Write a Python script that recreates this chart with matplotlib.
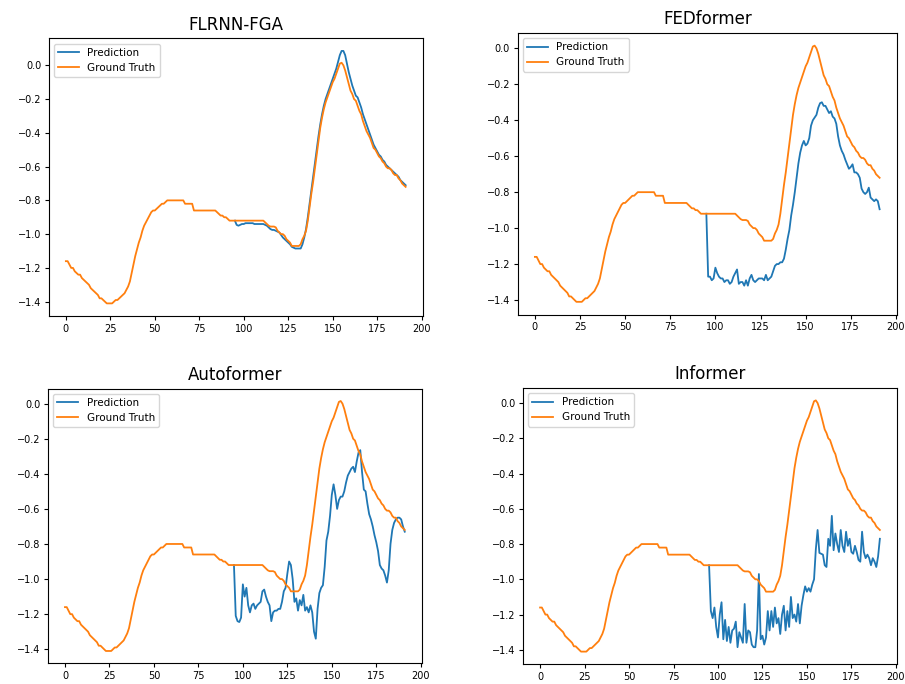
import matplotlib
matplotlib.use('Agg')
import numpy as np
import matplotlib.pyplot as plt

# ground truth: 96 input steps + 96 target steps (same series on all panels)
ground_truth = [
    -1.16, -1.16, -1.18, -1.20, -1.20, -1.22, -1.23, -1.24, -1.24, -1.26,
    -1.27, -1.28, -1.29, -1.30, -1.32, -1.33, -1.34, -1.35, -1.36, -1.38,
    -1.38, -1.39, -1.40, -1.41, -1.41, -1.41, -1.41, -1.40, -1.39, -1.39,
    -1.38, -1.37, -1.36, -1.35, -1.33, -1.31, -1.28, -1.23, -1.18, -1.13,
    -1.09, -1.05, -1.02, -0.98, -0.95, -0.93, -0.91, -0.89, -0.87, -0.86,
    -0.86, -0.85, -0.84, -0.83, -0.82, -0.82, -0.81, -0.80, -0.80, -0.80,
    -0.80, -0.80, -0.80, -0.80, -0.80, -0.80, -0.80, -0.82, -0.82, -0.82,
    -0.82, -0.82, -0.86, -0.86, -0.86, -0.86, -0.86, -0.86, -0.86, -0.86,
    -0.86, -0.86, -0.86, -0.86, -0.86, -0.87, -0.88, -0.89, -0.89, -0.90,
    -0.90, -0.91, -0.92, -0.92, -0.92, -0.92, -0.92, -0.92, -0.92, -0.92,
    -0.92, -0.92, -0.92, -0.92, -0.92, -0.92, -0.92, -0.92, -0.92, -0.92,
    -0.92, -0.92, -0.93, -0.94, -0.95, -0.955, -0.955, -0.955, -0.96, -0.98,
    -0.99, -1.00, -1.00, -1.01, -1.03, -1.04, -1.05, -1.07, -1.07, -1.07,
    -1.07, -1.07, -1.06, -1.03, -1.01, -0.98, -0.92, -0.84, -0.76, -0.69,
    -0.61, -0.53, -0.45, -0.37, -0.31, -0.26, -0.22, -0.19, -0.16, -0.13,
    -0.10, -0.08, -0.05, -0.02, 0.01, 0.015, 0.00, -0.03, -0.07, -0.11,
    -0.15, -0.17, -0.20, -0.21, -0.24, -0.27, -0.29, -0.33, -0.36, -0.39,
    -0.41, -0.43, -0.46, -0.49, -0.50, -0.52, -0.54, -0.55, -0.57, -0.58,
    -0.60, -0.61, -0.61, -0.62, -0.64, -0.65, -0.65, -0.67, -0.68, -0.70,
    -0.71, -0.72,
]

pred_start = 95  # predictions drawn from the last input step onward

pred_flrnn = [
    -0.92, -0.945, -0.95, -0.945, -0.94, -0.94, -0.935, -0.935, -0.935, -0.935,
    -0.935, -0.94, -0.94, -0.94, -0.94, -0.94, -0.94, -0.945, -0.95, -0.96,
    -0.97, -0.975, -0.975, -0.98, -0.985, -0.99, -1.005, -1.02, -1.03, -1.04,
    -1.05, -1.06, -1.075, -1.08, -1.085, -1.085, -1.085, -1.085, -1.06, -1.02,
    -0.97, -0.90, -0.82, -0.74, -0.66, -0.58, -0.50, -0.42, -0.35, -0.29,
    -0.24, -0.20, -0.17, -0.14, -0.11, -0.08, -0.05, -0.02, 0.02, 0.06,
    0.085, 0.085, 0.06, 0.01, -0.04, -0.08, -0.12, -0.15, -0.18, -0.19,
    -0.22, -0.25, -0.29, -0.32, -0.35, -0.38, -0.41, -0.44, -0.47, -0.49,
    -0.51, -0.53, -0.54, -0.56, -0.57, -0.59, -0.60, -0.61, -0.62, -0.63,
    -0.64, -0.65, -0.66, -0.68, -0.69, -0.70, -0.71,
]

pred_fedformer = [
    -0.92, -1.27, -1.27, -1.29, -1.28, -1.22, -1.25, -1.27, -1.28, -1.28,
    -1.30, -1.29, -1.29, -1.31, -1.30, -1.27, -1.25, -1.23, -1.31, -1.30,
    -1.30, -1.32, -1.29, -1.32, -1.28, -1.26, -1.29, -1.30, -1.29, -1.28,
    -1.28, -1.28, -1.29, -1.26, -1.29, -1.28, -1.27, -1.24, -1.21, -1.20,
    -1.20, -1.19, -1.19, -1.17, -1.12, -1.06, -1.01, -0.93, -0.87, -0.80,
    -0.72, -0.64, -0.58, -0.54, -0.515, -0.54, -0.53, -0.50, -0.43, -0.40,
    -0.385, -0.37, -0.33, -0.305, -0.30, -0.32, -0.32, -0.34, -0.36, -0.35,
    -0.38, -0.39, -0.42, -0.49, -0.54, -0.57, -0.59, -0.62, -0.645, -0.67,
    -0.66, -0.645, -0.69, -0.69, -0.70, -0.72, -0.78, -0.80, -0.81, -0.80,
    -0.775, -0.83, -0.84, -0.85, -0.84, -0.85, -0.895,
]

pred_autoformer = [
    -0.92, -1.21, -1.24, -1.245, -1.22, -1.03, -1.10, -1.05, -1.15, -1.19,
    -1.15, -1.14, -1.17, -1.15, -1.14, -1.13, -1.07, -1.06, -1.10, -1.13,
    -1.15, -1.24, -1.19, -1.18, -1.18, -1.17, -1.17, -1.13, -1.07, -1.05,
    -0.97, -0.90, -0.92, -1.00, -1.13, -1.11, -1.18, -1.12, -1.15, -1.09,
    -1.18, -1.16, -1.19, -1.15, -1.19, -1.30, -1.34, -1.17, -1.08, -1.05,
    -1.035, -0.93, -0.78, -0.73, -0.64, -0.52, -0.46, -0.52, -0.60, -0.55,
    -0.53, -0.53, -0.50, -0.45, -0.41, -0.39, -0.37, -0.36, -0.39, -0.33,
    -0.28, -0.265, -0.39, -0.49, -0.50, -0.57, -0.63, -0.66, -0.70, -0.75,
    -0.79, -0.84, -0.92, -0.94, -0.95, -0.98, -1.02, -0.95, -0.80, -0.72,
    -0.68, -0.66, -0.65, -0.65, -0.66, -0.70, -0.73,
]

pred_informer = [
    -0.92, -1.18, -1.22, -1.16, -1.27, -1.33, -1.20, -1.13, -1.34, -1.23,
    -1.35, -1.27, -1.36, -1.29, -1.28, -1.24, -1.385, -1.30, -1.33, -1.36,
    -1.14, -1.36, -1.29, -1.30, -1.37, -1.385, -1.385, -1.29, -0.97, -1.34,
    -1.32, -1.37, -1.33, -1.18, -1.29, -1.18, -1.27, -1.16, -1.25, -1.22,
    -1.31, -1.20, -1.15, -1.29, -1.18, -1.27, -1.10, -1.22, -1.20, -1.24,
    -1.14, -1.25, -1.15, -1.09, -1.04, -1.07, -1.05, -1.07, -1.03, -1.00,
    -0.83, -0.72, -0.85, -0.855, -0.86, -0.92, -0.93, -0.77, -0.81, -0.64,
    -0.835, -0.74, -0.80, -0.845, -0.72, -0.81, -0.845, -0.73, -0.81, -0.77,
    -0.845, -0.855, -0.81, -0.845, -0.89, -0.90, -0.73, -0.845, -0.88, -0.86,
    -0.88, -0.92, -0.88, -0.90, -0.93, -0.87, -0.77,
]

titles = ['FLRNN-FGA', 'FEDformer', 'Autoformer', 'Informer']
preds = [pred_flrnn, pred_fedformer, pred_autoformer, pred_informer]

# each panel sits where it was pasted in the original figure
boxes = [
    [0.054, 0.538, 0.413, 0.406],
    [0.572, 0.540, 0.419, 0.412],
    [0.053, 0.030, 0.413, 0.402],
    [0.578, 0.029, 0.413, 0.404],
]

fig = plt.figure(figsize=(9.05, 6.84), dpi=100)
t = np.arange(len(ground_truth))

for title, pred, box in zip(titles, preds, boxes):
    ax = fig.add_axes(box)
    tp = np.arange(pred_start, pred_start + len(pred))
    ax.plot(tp, pred, color='#1f77b4', lw=1.3, label='Prediction')
    ax.plot(t, ground_truth, color='#ff7f0e', lw=1.3, label='Ground Truth')
    ax.set_title(title, fontsize=12)
    ax.set_xticks([0, 25, 50, 75, 100, 125, 150, 175, 200])
    ax.tick_params(labelsize=7, length=3, pad=2.5)
    for s in ax.spines.values():
        s.set_linewidth(0.8)
    ax.legend(loc='upper left', fontsize=7.5)

plt.savefig('out.png', dpi=100)
